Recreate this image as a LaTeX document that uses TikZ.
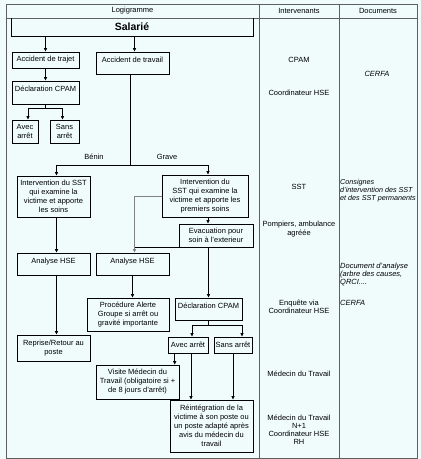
\documentclass[tikz,border=0pt]{standalone}
\usepackage{fontspec}
\setmainfont{Liberation Sans}
\usetikzlibrary{arrows.meta,positioning}
\definecolor{fond}{RGB}{240,252,252}
\definecolor{trait}{RGB}{95,95,95}
\definecolor{gris}{RGB}{130,130,130}
\newcommand{\petit}{\fontsize{7.5}{9}\selectfont}
\newcommand{\serre}{\fontsize{7.5}{8}\selectfont}
\tikzset{
  >={Latex[length=3.5pt,width=3.5pt]},
  cadre/.style={draw=black,line width=0.6pt},
  grille/.style={draw=trait,line width=0.7pt},
  boite/.style 2 args={cadre,fill=fond,inner xsep=1pt,inner ysep=1pt,
    minimum width=#1,minimum height=#2,align=center,font=\petit},
  haut/.style 2 args={cadre,fill=fond,inner xsep=1pt,inner ysep=0pt,
    minimum width=#1,text height=10pt,text depth=#2,font=\petit},
  fleche/.style={->,line width=0.6pt},
  entete/.style={font=\petit,inner sep=0pt},
  libre/.style={font=\petit,inner sep=0pt},
  texte/.style={font=\petit,align=center,inner sep=0pt},
  doc/.style={font=\serre\itshape,align=left,anchor=west,inner sep=0pt},
}
\begin{document}
\begin{tikzpicture}[x=1pt,y=-1pt]
  \fill[fond] (0,0) rectangle (421,459);
  \useasboundingbox (0,0) rectangle (421,459);
  % tableau
  \draw[grille] (6,4) rectangle (417,458);
  \draw[grille] (6,18) -- (417,18) (259,4) -- (259,458) (339,4) -- (339,458);
  \node[entete] (hlogi) at (132.5,11) {Logigramme};
  \node[entete] (hinter) at (299,11) {Intervenants};
  \node[entete] (hdoc) at (378,11) {Documents};
  % logigramme
  \node[font=\fontsize{10.5}{12}\selectfont\bfseries,minimum width=242pt,minimum height=18pt,inner sep=0pt] (salarie) at (132,27) {Salarié};
  \draw[cadre] (salarie.north west) |- (salarie.south east) -- (salarie.north east);
  \node[boite={67pt}{16pt}] (trajet) at (45.5,60) {Accident de trajet};
  \node[haut={73pt}{12pt}] (travail) at (132.5,63) {Accident de travail};
  \node[haut={67pt}{13pt}] (declA) at (45.5,92.5) {Déclaration CPAM};
  \node[boite={26pt}{23pt}] (avecA) at (25,131.5) {Avec\\arrêt};
  \node[boite={29pt}{23pt}] (sansA) at (64.5,131.5) {Sans\\arrêt};
  \node[boite={73pt}{41pt}] (sstA) at (53.5,196.5) {Intervention du SST\\qui examine la\\victime et apporte\\les soins};
  \node[boite={86pt}{42pt}] (sstB) at (205,196) {Intervention du\\SST qui examine la\\victime et apporte les\\premiers soins};
  \node[boite={74pt}{23pt}] (evac) at (216,235.5) {Evacuation pour\\soin à l'exterieur};
  \node[haut={73pt}{12pt}] (hseA) at (53.5,264) {Analyse HSE};
  \node[haut={73pt}{12pt}] (hseB) at (132.5,264) {Analyse HSE};
  \node[boite={73pt}{26pt}] (reprise) at (53.5,348) {Reprise/Retour au\\poste};
  \node[boite={82pt}{33pt}] (alerte) at (128,314.5) {Procédure Alerte\\Groupe si arrêt ou\\gravité importante};
  \node[haut={67pt}{12pt}] (declB) at (208.5,309) {Déclaration CPAM};
  \node[boite={40pt}{16pt}] (avecB) at (188,345) {Avec arrêt};
  \node[boite={38pt}{16pt}] (sansB) at (233,345) {Sans arrêt};
  \node[boite={83pt}{34pt}] (visite) at (137.5,382) {Visite Médecin du\\Travail (obligatoire si +\\de 8 jours d'arrêt)};
  \node[boite={83pt}{52pt}] (reint) at (211.5,426) {Réintégration de la\\victime à son poste ou\\un poste adapté après\\avis du médecin du\\travail};
  \node[libre] (benin) at (94,157) {Bénin};
  \node[libre] (grave) at (167,157) {Grave};
  % liaisons
  \draw[fleche] (salarie.south -| trajet.north) -- (trajet.north);
  \draw[fleche] ([xshift=2pt]salarie.south -| travail.north) -- ([xshift=2pt]travail.north);
  \draw[fleche] (trajet) -- (declA);
  \draw[fleche] (declA.south) -- ++(0,4) -| ([xshift=3pt]avecA.north);
  \draw[fleche] (declA.south) -- ++(0,4) -| ([xshift=-2pt]sansA.north);
  \draw[fleche] ([xshift=-2pt]travail.south) -- ++(0,91) -| ([xshift=3pt]sstA.north);
  \draw[fleche] ([xshift=-2pt]travail.south) -- ++(0,91) -| ([xshift=3pt]sstB.north);
  \draw[fleche] ([xshift=3pt]sstA.south) -- ([xshift=3pt]hseA.north);
  \draw[fleche] ([xshift=3pt]sstB.south) -- ([xshift=3pt]sstB.south |- evac.north);
  \draw[fleche,draw=gris] (sstB.west) -| ([xshift=2pt]hseB.north);
  \draw[cadre] (evac.south west) -- ([xshift=2pt]evac.south west -| hseB.north);
  \draw[fleche] (evac.south -| declB.north) -- (declB.north);
  \draw[fleche] ([xshift=3pt]hseA.south) -- ([xshift=3pt]reprise.north);
  \draw[fleche] (hseB.south) -- (hseB.south |- alerte.north);
  \draw[fleche] (declB.south) -- ++(0,5) -| ([xshift=4pt]avecB.north);
  \draw[fleche] (declB.south) -- ++(0,5) -| ([xshift=9pt]sansB.north);
  \draw[fleche] ([xshift=7pt]avecB.south west) -- ([xshift=7pt]avecB.south west |- visite.north);
  \draw[fleche] ([xshift=3pt]avecB.south) -- ([xshift=3pt]avecB.south |- reint.north);
  \draw[fleche] (sansB.south) -- (sansB.south |- reint.north);
  % intervenants
  \node[texte] (i1) at (299,60) {CPAM};
  \node[texte] (i2) at (299,93) {Coordinateur HSE};
  \node[texte] (i3) at (299,187) {SST};
  \node[texte] (i4) at (299,229) {Pompiers, ambulance\\agréée};
  \node[texte,font=\serre] (i5) at (299,307) {Enquête via\\Coordinateur HSE};
  \node[texte] (i6) at (299,374) {Médecin du Travail};
  \node[texte,font=\serre] (i7) at (299,430) {Médecin du Travail\\N+1\\Coordinateur HSE\\RH};
  % documents
  \node[doc,anchor=center] (d1) at (377,74) {CERFA};
  \node[doc,font=\fontsize{7.2}{8}\selectfont\itshape] (d2) at (340,191) {Consignes\\d'intervention des SST\\et des SST permanents};
  \node[doc] (d3) at (340,274.5) {Document d'analyse\\(arbre des causes,\\QRCI....};
  \node[doc] (d4) at (340,303) {CERFA};
\end{tikzpicture}
\end{document}
